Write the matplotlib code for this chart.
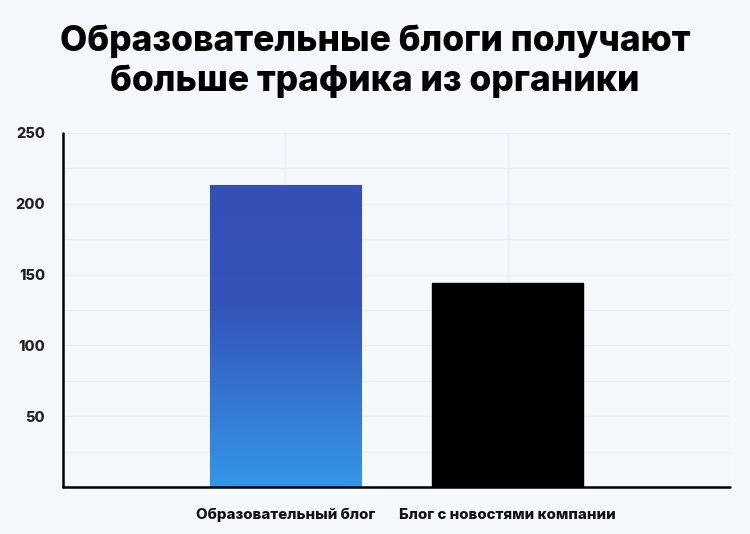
import numpy as np
import matplotlib
matplotlib.use("Agg")
import matplotlib.pyplot as plt
from matplotlib.colors import LinearSegmentedColormap

categories = ["Образовательный блог", "Блог с новостями компании"]
values = [213, 144]
yticks = [50, 100, 150, 200, 250]
title = "Образовательные блоги получают\nбольше трафика из органики"

bg = "#F5F8FD"
grid_col = "#E6EEF9"

plt.rcParams["font.family"] = ["Inter", "DejaVu Sans"]

fig = plt.figure(figsize=(7.5, 5.34), dpi=100, facecolor=bg)
ax = fig.add_axes([0.084, 0.088, 0.889, 0.663])
ax.set_facecolor(bg)

x = np.arange(len(categories))
bars = ax.bar(x, values, width=0.68, color="none", zorder=3)

# gradient for the first bar, solid black for the second
cmap = LinearSegmentedColormap.from_list(
    "blu", [(0, "#3597E8"), (0.6, "#3354BA"), (1, "#3350B6")])
b0 = bars[0]
grad = np.linspace(0, 1, 256).reshape(-1, 1)
im = ax.imshow(grad, cmap=cmap, origin="lower", aspect="auto",
               extent=[b0.get_x(), b0.get_x() + b0.get_width(), 0, b0.get_height()],
               zorder=3)
im.set_clip_path(b0)
b0.set_edgecolor("#8FB4EE")
b0.set_linewidth(0.8)
bars[1].set_facecolor("black")
bars[1].set_edgecolor("black")

ax.set_xlim(-1, 2)
ax.set_ylim(0, 250)
ax.set_yticks(yticks)
ax.set_yticks(np.arange(25, 251, 25), minor=True)
ax.set_xticks(x)
ax.set_xticklabels(categories)
ax.set_xticks([1.999], minor=True)

ax.grid(True, which="both", axis="y", color=grid_col, linewidth=1, zorder=0)
ax.grid(True, which="both", axis="x", color=grid_col, linewidth=1, zorder=0)
ax.set_axisbelow(True)

for s in ["top", "right"]:
    ax.spines[s].set_visible(False)
for s in ["left", "bottom"]:
    ax.spines[s].set_color("black")
    ax.spines[s].set_linewidth(1.8)
    ax.spines[s].set_capstyle("round")
    ax.spines[s].set_zorder(4)

ax.tick_params(axis="both", which="both", length=0)
ax.tick_params(axis="y", pad=13)
ax.tick_params(axis="x", pad=15)
for lab in ax.get_yticklabels():
    lab.set_fontsize(10.5)
    lab.set_fontweight("heavy")
    lab.set_color("#222222")
for lab in ax.get_xticklabels():
    lab.set_fontsize(10.8)
    lab.set_fontweight("heavy")
    lab.set_color("#111111")

fig.text(0.5, 0.885, title, ha="center", va="center", fontsize=25.5,
         fontweight="heavy", color="black", linespacing=1.25)

fig.savefig("out.png", dpi=100, facecolor=bg)
